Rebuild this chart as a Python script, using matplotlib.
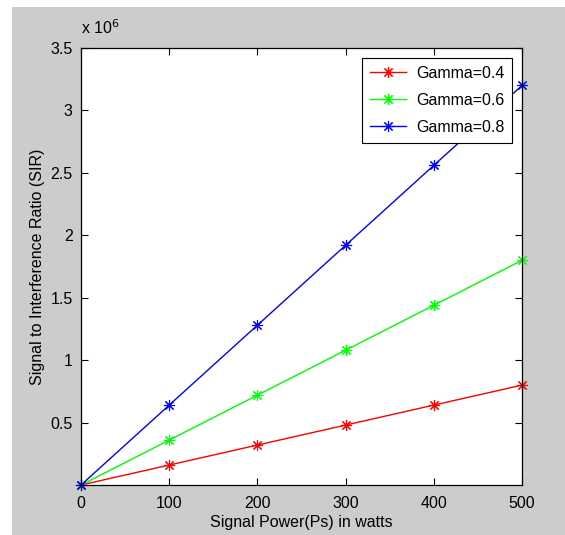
import matplotlib
matplotlib.use('Agg')
import matplotlib.pyplot as plt
from matplotlib.patches import Rectangle
from matplotlib.ticker import FuncFormatter

plt.rcParams['font.family'] = ['Liberation Sans', 'DejaVu Sans']

# data
power = [0, 100, 200, 300, 400, 500]
sir_g04 = [0, 0.16e6, 0.32e6, 0.48e6, 0.64e6, 0.80e6]
sir_g06 = [0, 0.36e6, 0.72e6, 1.08e6, 1.44e6, 1.80e6]
sir_g08 = [0, 0.64e6, 1.28e6, 1.92e6, 2.56e6, 3.20e6]
labels = ['Gamma=0.4', 'Gamma=0.6', 'Gamma=0.8']
colors = ['#ff0000', '#00ff00', '#0000ff']

fig = plt.figure(figsize=(5.65, 5.35), dpi=100, facecolor='white')
# grey matlab figure window
fig.patches.append(Rectangle((12 / 565, 0), 1 - 12 / 565, 1 - 7 / 535,
                             transform=fig.transFigure, facecolor='#cccccc',
                             edgecolor='none', zorder=-5))

ax = fig.add_axes([81 / 565, 1 - 485 / 535, 441 / 565, 437 / 535])
ax.set_facecolor('white')

asterisk = (8, 2, 0)
for y, lab, c in zip([sir_g04, sir_g06, sir_g08], labels, colors):
    ax.plot(power, y, color=c, lw=1, marker=asterisk, ms=8, mew=0.8,
            label=lab, clip_on=False)

ax.set_xlim(0, 500)
ax.set_ylim(0, 3.5e6)
ax.set_xticks(power)
ax.set_yticks([0.5e6, 1e6, 1.5e6, 2e6, 2.5e6, 3e6, 3.5e6])
ax.yaxis.set_major_formatter(FuncFormatter(lambda v, p: '%g' % (v / 1e6)))
ax.tick_params(direction='in', top=True, right=True, length=5,
               labelsize=11.5, width=0.8, pad=6)
ax.tick_params(axis='x', pad=8)
for s in ax.spines.values():
    s.set_linewidth(0.9)

ax.text(0.0, 1.025, r'x 10$^{6}$', transform=ax.transAxes, fontsize=11.5,
        ha='left', va='bottom')

ax.set_xlabel('Signal Power(Ps) in watts', fontsize=11.5, labelpad=3)
ax.set_ylabel('Signal to Interference Ratio (SIR)', fontsize=11.5, labelpad=4)

leg = ax.legend(loc='upper right', fontsize=11.5, fancybox=False,
                edgecolor='black', framealpha=1, borderaxespad=0.6,
                handlelength=2.3, handletextpad=0.6, labelspacing=0.75,
                borderpad=0.5)
leg.get_frame().set_linewidth(0.8)

fig.savefig('out.png', dpi=100, facecolor=fig.get_facecolor())
